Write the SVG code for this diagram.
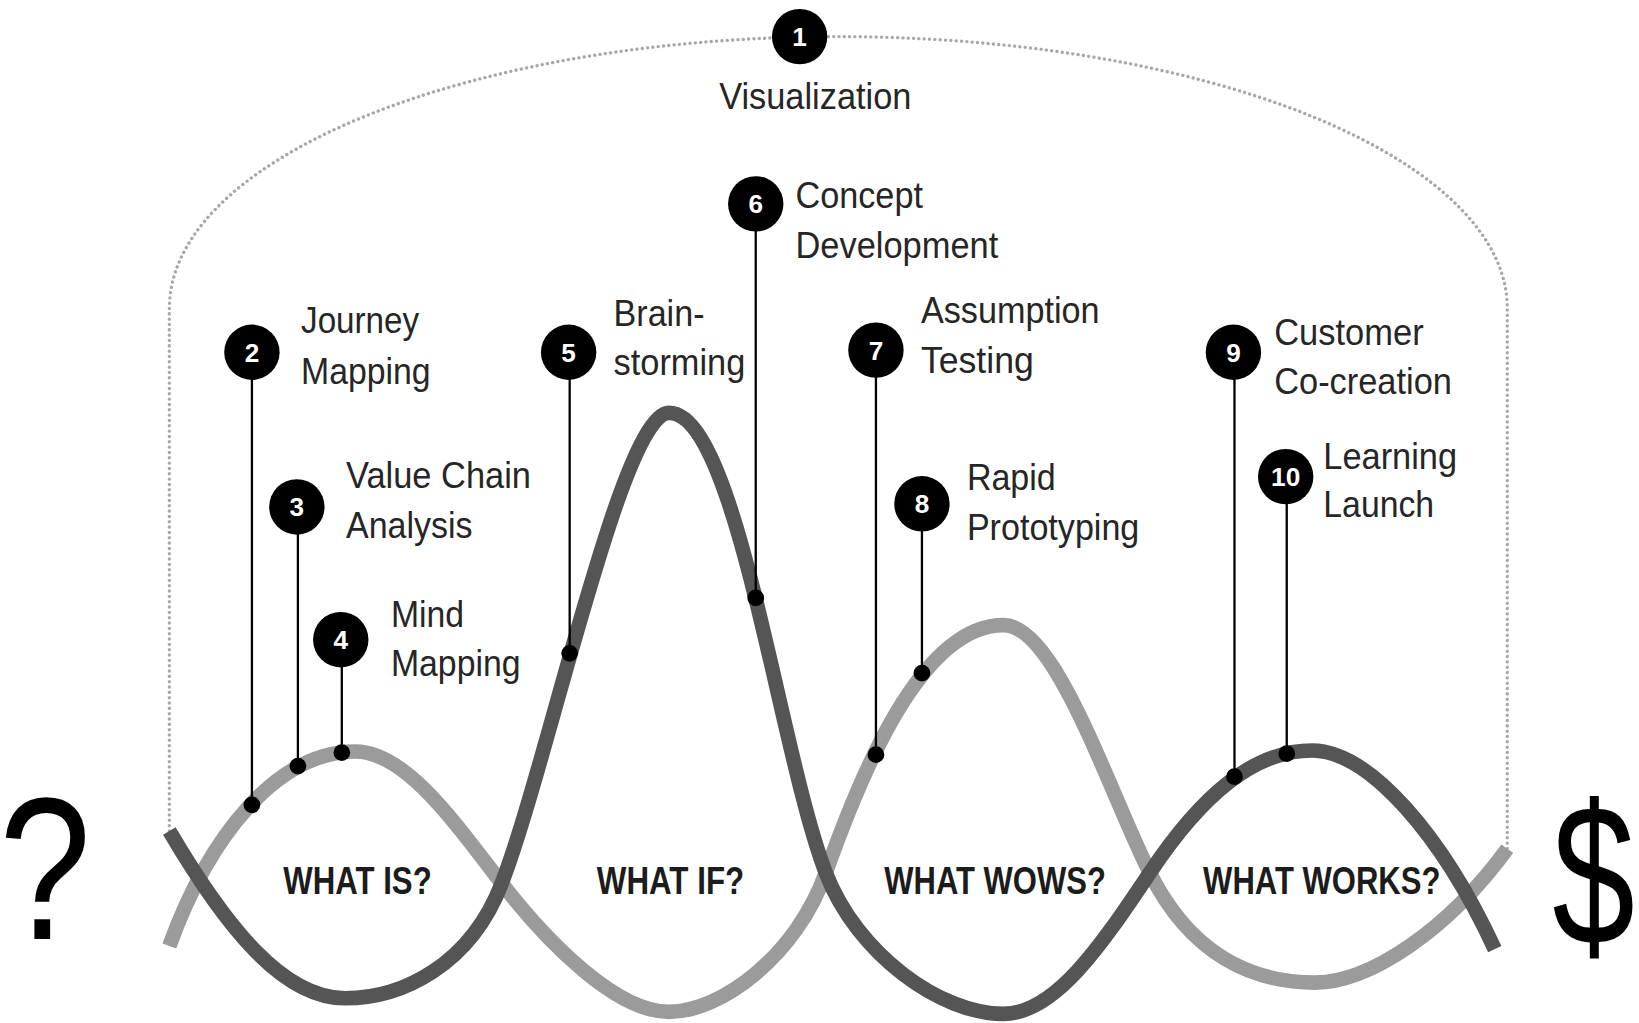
<svg xmlns="http://www.w3.org/2000/svg" width="1639" height="1023" viewBox="0 0 1639 1023">
<style>
.frame{fill:none;stroke:#a8a8a8;stroke-width:3.2;stroke-dasharray:0.1 5;stroke-linecap:round}
.wl{fill:none;stroke:#9b9b9b;stroke-width:14}
.wd{fill:none;stroke:#555555;stroke-width:14}
.stem{stroke:#000;stroke-width:2.2}
.dot{fill:#000}
.badge{fill:#000}
.num{font-family:"Liberation Sans",Arial,sans-serif;font-weight:bold;font-size:25px;fill:#fff;text-anchor:middle}
.lbl{font-family:"Liberation Sans",Arial,sans-serif;font-size:35.5px;fill:#262626}
.stage{font-family:"Liberation Sans",Arial,sans-serif;font-weight:bold;font-size:37px;fill:#1c1c1c}
.big{font-family:"Liberation Sans",Arial,sans-serif;fill:#000}
</style>
<rect width="1639" height="1023" fill="#fff"/>
<g transform="scale(1.045277)">
<g id="frame">
<path class="frame" d="M162,795 L162,295 A640,260 0 0 1 1442,295 L1442,812"/>
</g>
<g id="connectors">
<path id="wave-light" class="wl" d="M162,905 C200,800 265,719 340,719 C388,719 435,787 480,845 C525,903 590,968 640,968 C690,968 762,914 790,835 C822,745 880,598 960,598 C1010,598 1060,755 1100,835 C1140,915 1200,940 1258,940 C1310,940 1385,890 1442,812"/>
<path id="wave-dark" class="wd" d="M162,795 C215,885 270,955 330,955 C385,955 450,923 480,845 C525,728 595,395 640,395 C705,395 745,718 790,835 C820,913 900,970 960,970 C1010,970 1055,902 1100,835 C1150,760 1200,718 1255,718 C1310,718 1380,800 1430,908"/>
<line class="stem" x1="241" y1="337" x2="241" y2="770"/>
<line class="stem" x1="285" y1="485" x2="285" y2="733"/>
<line class="stem" x1="327" y1="612" x2="327" y2="720"/>
<line class="stem" x1="545" y1="337" x2="545" y2="625"/>
<line class="stem" x1="723" y1="195" x2="723" y2="572"/>
<line class="stem" x1="838" y1="335" x2="838" y2="722"/>
<line class="stem" x1="882" y1="482" x2="882" y2="644"/>
<line class="stem" x1="1181" y1="337" x2="1181" y2="743"/>
<line class="stem" x1="1231" y1="456" x2="1231" y2="721"/>
<circle class="dot" cx="241" cy="770" r="8"/>
<circle class="dot" cx="285" cy="733" r="8"/>
<circle class="dot" cx="327" cy="720" r="8"/>
<circle class="dot" cx="545" cy="625" r="8"/>
<circle class="dot" cx="723" cy="572" r="8"/>
<circle class="dot" cx="838" cy="722" r="8"/>
<circle class="dot" cx="882" cy="644" r="8"/>
<circle class="dot" cx="1181" cy="743" r="8"/>
<circle class="dot" cx="1231" cy="721" r="8"/>
</g>
<g id="node1">
<circle class="badge" cx="765" cy="35" r="26.5"/>
<text class="num" x="765" y="44">1</text>
<text class="lbl" x="688" y="104" textLength="184" lengthAdjust="spacingAndGlyphs">Visualization</text>
</g>
<g id="node2">
<circle class="badge" cx="241" cy="337" r="26.5"/>
<text class="num" x="241" y="346">2</text>
<text class="lbl" x="288" y="319" textLength="113" lengthAdjust="spacingAndGlyphs">Journey</text>
<text class="lbl" x="288" y="367" textLength="124" lengthAdjust="spacingAndGlyphs">Mapping</text>
</g>
<g id="node3">
<circle class="badge" cx="284" cy="485" r="26.5"/>
<text class="num" x="284" y="494">3</text>
<text class="lbl" x="331" y="467" textLength="177" lengthAdjust="spacingAndGlyphs">Value Chain</text>
<text class="lbl" x="331" y="515" textLength="121" lengthAdjust="spacingAndGlyphs">Analysis</text>
</g>
<g id="node4">
<circle class="badge" cx="326" cy="612" r="26.5"/>
<text class="num" x="326" y="621">4</text>
<text class="lbl" x="374" y="600" textLength="70" lengthAdjust="spacingAndGlyphs">Mind</text>
<text class="lbl" x="374" y="647" textLength="124" lengthAdjust="spacingAndGlyphs">Mapping</text>
</g>
<g id="node5">
<circle class="badge" cx="544" cy="337" r="26.5"/>
<text class="num" x="544" y="346">5</text>
<text class="lbl" x="587" y="312" textLength="87" lengthAdjust="spacingAndGlyphs">Brain-</text>
<text class="lbl" x="587" y="359" textLength="126" lengthAdjust="spacingAndGlyphs">storming</text>
</g>
<g id="node6">
<circle class="badge" cx="723" cy="195" r="26.5"/>
<text class="num" x="723" y="204">6</text>
<text class="lbl" x="761" y="199" textLength="122" lengthAdjust="spacingAndGlyphs">Concept</text>
<text class="lbl" x="761" y="247" textLength="194" lengthAdjust="spacingAndGlyphs">Development</text>
</g>
<g id="node7">
<circle class="badge" cx="838" cy="335" r="26.5"/>
<text class="num" x="838" y="344">7</text>
<text class="lbl" x="881" y="309" textLength="171" lengthAdjust="spacingAndGlyphs">Assumption</text>
<text class="lbl" x="881" y="357" textLength="108" lengthAdjust="spacingAndGlyphs">Testing</text>
</g>
<g id="node8">
<circle class="badge" cx="882" cy="482" r="26.5"/>
<text class="num" x="882" y="491">8</text>
<text class="lbl" x="925" y="469" textLength="85" lengthAdjust="spacingAndGlyphs">Rapid</text>
<text class="lbl" x="925" y="517" textLength="165" lengthAdjust="spacingAndGlyphs">Prototyping</text>
</g>
<g id="node9">
<circle class="badge" cx="1180" cy="337" r="26.5"/>
<text class="num" x="1180" y="346">9</text>
<text class="lbl" x="1219" y="330" textLength="143" lengthAdjust="spacingAndGlyphs">Customer</text>
<text class="lbl" x="1219" y="377" textLength="170" lengthAdjust="spacingAndGlyphs">Co-creation</text>
</g>
<g id="node10">
<circle class="badge" cx="1230" cy="456" r="26.5"/>
<text class="num" x="1230" y="465" textLength="28" lengthAdjust="spacingAndGlyphs">10</text>
<text class="lbl" x="1266" y="449" textLength="128" lengthAdjust="spacingAndGlyphs">Learning</text>
<text class="lbl" x="1266" y="495" textLength="106" lengthAdjust="spacingAndGlyphs">Launch</text>
</g>
<g id="stages">
<text class="stage" x="271" y="855" textLength="142" lengthAdjust="spacingAndGlyphs">WHAT IS?</text>
<text class="stage" x="571" y="855" textLength="141" lengthAdjust="spacingAndGlyphs">WHAT IF?</text>
<text class="stage" x="846" y="855" textLength="212" lengthAdjust="spacingAndGlyphs">WHAT WOWS?</text>
<text class="stage" x="1151" y="855" textLength="227" lengthAdjust="spacingAndGlyphs">WHAT WORKS?</text>
</g>
<g id="ends">
<text class="big" x="-1" y="898" font-size="193" textLength="88" lengthAdjust="spacingAndGlyphs">?</text>
<text class="big" x="1485" y="903" font-size="192" textLength="79" lengthAdjust="spacingAndGlyphs">$</text>
</g>
</g>
</svg>
